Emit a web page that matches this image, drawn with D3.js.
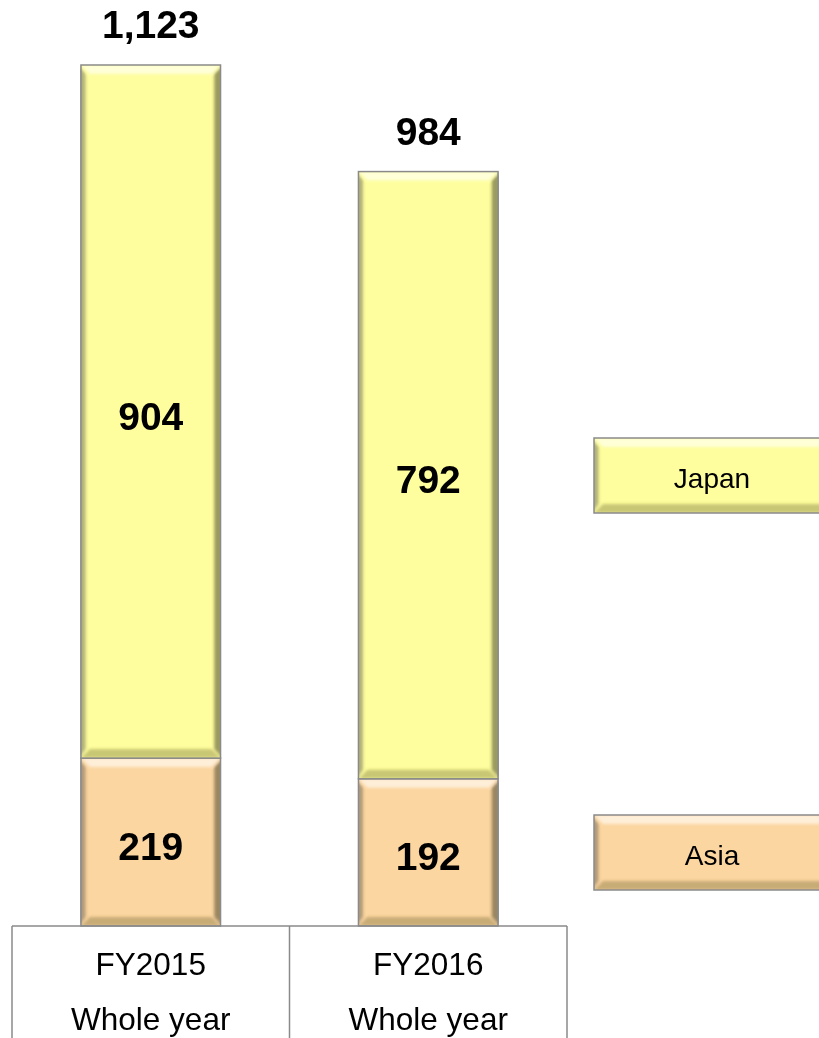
<!DOCTYPE html>
<html>
<head>
<meta charset="utf-8">
<script src="https://cdn.jsdelivr.net/npm/d3@7"></script>
<style>
  html, body { margin: 0; padding: 0; background: #fff; }
  svg { display: block; }
</style>
</head>
<body>
<svg id="chart" width="819" height="1038"></svg>
<script>
// ---- Data ----
const categories = ["FY2015", "FY2016"];
const categorySub = ["Whole year", "Whole year"];
const seriesNames = ["Asia", "Japan"];          // stacking order bottom -> top
const asiaValues  = [219, 192];
const japanValues = [904, 792];
const totalLabels = ["1,123", "984"];
const seriesColors = ["#FCD6A0", "#FEFE9E"];

const svg = d3.select("#chart");
const font = "'Liberation Sans', Arial, Helvetica, sans-serif";

const defs = svg.append("defs");
const blur = defs.append("filter").attr("id", "soft").attr("x", "-5%").attr("y", "-5%").attr("width", "110%").attr("height", "110%");
blur.append("feGaussianBlur").attr("stdDeviation", 1.6);

const rows = categories.map((c, i) => ({cat: c, Asia: asiaValues[i], Japan: japanValues[i]}));
const stacked = d3.stack().keys(seriesNames)(rows);
const totals = rows.map(r => r.Asia + r.Japan);

const x = d3.scaleBand().domain(categories).range([12, 567]).padding(0);
const y = d3.scaleLinear().domain([0, d3.max(totals)]).range([926, 65]);
const barW = x.bandwidth() * 0.503;
const color = d3.scaleOrdinal().domain(seriesNames).range(seriesColors);

let clipId = 0;
// bevel drawing helper
function bevelBox(g, bx, by, bw, bh, fill) {
  const b = 9;
  const id = "clip" + (clipId++);
  defs.append("clipPath").attr("id", id).append("rect")
    .attr("x", bx).attr("y", by).attr("width", bw).attr("height", bh);
  const grp = g.append("g");
  grp.append("rect").attr("x", bx).attr("y", by).attr("width", bw).attr("height", bh).attr("fill", fill);
  const inner = grp.append("g").attr("clip-path", `url(#${id})`).append("g").attr("filter", "url(#soft)");
  // top highlight
  inner.append("polygon")
    .attr("points", [[bx, by], [bx + bw, by], [bx + bw - b, by + b], [bx + b, by + b]].join(" "))
    .attr("fill", "#ffffff").attr("opacity", 0.6);
  // bottom shade
  inner.append("polygon")
    .attr("points", [[bx, by + bh], [bx + bw, by + bh], [bx + bw - b, by + bh - b], [bx + b, by + bh - b]].join(" "))
    .attr("fill", "#5a5020").attr("opacity", 0.32);
  // left shade
  inner.append("polygon")
    .attr("points", [[bx - 2, by], [bx + b * 0.5, by + b], [bx + b * 0.5, by + bh - b], [bx - 2, by + bh]].join(" "))
    .attr("fill", "#404040").attr("opacity", 0.4);
  // right shade
  inner.append("polygon")
    .attr("points", [[bx + bw + 2, by], [bx + bw - b * 0.7, by + b], [bx + bw - b * 0.7, by + bh - b], [bx + bw + 2, by + bh]].join(" "))
    .attr("fill", "#3a3520").attr("opacity", 0.5);
  grp.append("rect").attr("x", bx).attr("y", by).attr("width", bw).attr("height", bh)
    .attr("fill", "none").attr("stroke", "#8a8a8a").attr("stroke-width", 1.5);
  return grp;
}

// ---- Bars ----
const barsG = svg.append("g");
stacked.forEach(layer => {
  layer.forEach((d, i) => {
    const cx = x(categories[i]) + x.bandwidth() / 2;
    const bx = cx - barW / 2;
    const y0 = y(d[1]), y1 = y(d[0]);
    bevelBox(barsG, bx, y0, barW, y1 - y0, color(layer.key));
    barsG.append("text")
      .attr("x", cx).attr("y", (y0 + y1) / 2 + 18)
      .attr("text-anchor", "middle")
      .attr("font-family", font).attr("font-weight", "bold").attr("font-size", 39)
      .attr("fill", "#000")
      .text(d.data[layer.key]);
  });
});

// totals
categories.forEach((c, i) => {
  svg.append("text")
    .attr("x", x(c) + x.bandwidth() / 2).attr("y", y(totals[i]) - 27)
    .attr("text-anchor", "middle")
    .attr("font-family", font).attr("font-weight", "bold").attr("font-size", 39)
    .attr("fill", "#000")
    .text(totalLabels[i]);
});

// ---- Category table (axis) ----
const axisG = svg.append("g");
axisG.append("line").attr("x1", x.range()[0]).attr("x2", x.range()[1]).attr("y1", y(0)).attr("y2", y(0))
  .attr("stroke", "#8a8a8a").attr("stroke-width", 1.5);
const edges = [x.range()[0]].concat(categories.map(c => x(c) + x.bandwidth()));
edges.forEach(ex => {
  axisG.append("line").attr("x1", ex).attr("x2", ex).attr("y1", y(0)).attr("y2", 1038)
    .attr("stroke", "#8a8a8a").attr("stroke-width", 1.5);
});
categories.forEach((c, i) => {
  const cx = x(c) + x.bandwidth() / 2;
  axisG.append("text").attr("x", cx).attr("y", 975).attr("text-anchor", "middle")
    .attr("font-family", font).attr("font-size", 31.5).attr("fill", "#000").text(c);
  axisG.append("text").attr("x", cx).attr("y", 1030).attr("text-anchor", "middle")
    .attr("font-family", font).attr("font-size", 31.5).attr("fill", "#000").text(categorySub[i]);
});

// ---- Legend ----
const legendY = {Japan: 438, Asia: 815};
seriesNames.forEach(s => {
  const lx = 594, lw = 236, lh = 75, ly = legendY[s];
  bevelBox(svg.append("g"), lx, ly, lw, lh, color(s));
  svg.append("text").attr("x", lx + lw / 2).attr("y", ly + lh / 2 + 12)
    .attr("text-anchor", "middle")
    .attr("font-family", font).attr("font-size", 28).attr("fill", "#000")
    .text(s);
});
</script>
</body>
</html>
